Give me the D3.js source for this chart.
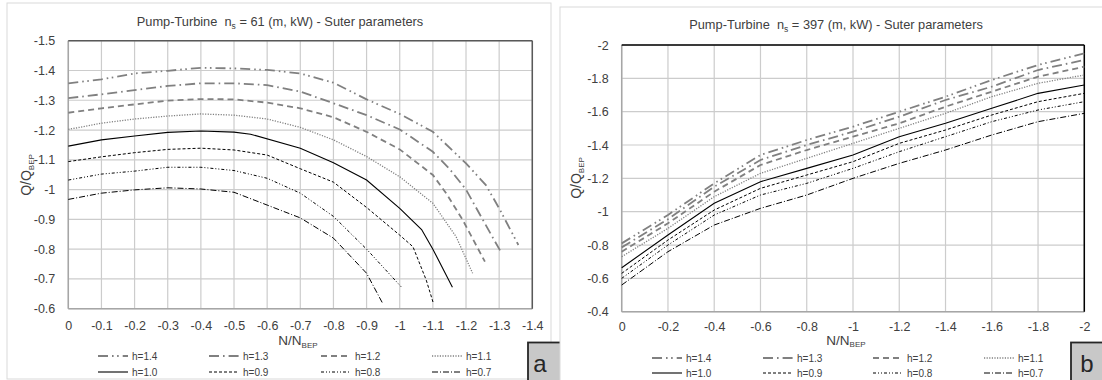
<!DOCTYPE html>
<html><head><meta charset="utf-8">
<script src="https://cdn.jsdelivr.net/npm/d3@7"></script>
<style>
html,body{margin:0;padding:0;background:#fff;}
svg{display:block;font-family:"Liberation Sans",Arial,sans-serif;}
</style></head><body>
<svg id="chart" width="1102" height="380"></svg>
<script>
// ---------- Pump-turbine ns = 61 : Q/Q_BEP against N/N_BEP, one curve per h ----------
const a14N = [0,-0.1,-0.2,-0.3,-0.4,-0.5,-0.6,-0.7,-0.8,-0.9,-1.0,-1.1,-1.2,-1.26,-1.3,-1.358];
const a14Q = [-1.357,-1.370,-1.390,-1.399,-1.409,-1.407,-1.402,-1.390,-1.359,-1.303,-1.254,-1.194,-1.088,-1.015,-0.937,-0.814];
const a13N = [0,-0.1,-0.2,-0.3,-0.4,-0.5,-0.6,-0.7,-0.8,-0.9,-1.0,-1.1,-1.15,-1.2,-1.25,-1.305];
const a13Q = [-1.307,-1.320,-1.334,-1.348,-1.357,-1.357,-1.351,-1.329,-1.290,-1.250,-1.202,-1.127,-1.070,-1.000,-0.900,-0.791];
const a12N = [0,-0.1,-0.2,-0.3,-0.4,-0.5,-0.6,-0.7,-0.8,-0.9,-1.0,-1.1,-1.14,-1.19,-1.257];
const a12Q = [-1.258,-1.273,-1.286,-1.299,-1.304,-1.303,-1.292,-1.273,-1.243,-1.194,-1.135,-1.049,-0.988,-0.898,-0.758];
const a11N = [0,-0.1,-0.2,-0.3,-0.4,-0.5,-0.6,-0.7,-0.8,-0.9,-1.0,-1.1,-1.17,-1.22];
const a11Q = [-1.202,-1.223,-1.237,-1.247,-1.254,-1.250,-1.237,-1.209,-1.167,-1.111,-1.043,-0.954,-0.842,-0.719];
const a10N = [0,-0.1,-0.2,-0.3,-0.4,-0.5,-0.55,-0.7,-0.8,-0.9,-1.0,-1.066,-1.1,-1.159];
const a10Q = [-1.146,-1.167,-1.180,-1.192,-1.197,-1.193,-1.186,-1.139,-1.090,-1.032,-0.937,-0.866,-0.800,-0.672];
const a09N = [0,-0.1,-0.2,-0.3,-0.4,-0.5,-0.6,-0.7,-0.8,-0.9,-1.0,-1.04,-1.08,-1.101];
const a09Q = [-1.094,-1.110,-1.124,-1.135,-1.139,-1.133,-1.116,-1.070,-1.025,-0.940,-0.847,-0.808,-0.696,-0.620];
const a08N = [0,-0.1,-0.2,-0.3,-0.4,-0.5,-0.6,-0.7,-0.8,-0.9,-1.004];
const a08Q = [-1.032,-1.052,-1.062,-1.075,-1.075,-1.064,-1.038,-0.988,-0.910,-0.800,-0.674];
const a07N = [0,-0.1,-0.2,-0.3,-0.4,-0.5,-0.6,-0.7,-0.8,-0.9,-0.947];
const a07Q = [-0.967,-0.988,-0.999,-1.006,-1.002,-0.991,-0.948,-0.905,-0.837,-0.719,-0.621];

// ---------- Pump-turbine ns = 397 ----------
const speedB = [0,-0.2,-0.4,-0.6,-0.8,-1.0,-1.2,-1.4,-1.6,-1.8,-2.0];
const b14 = [-0.81,-0.98,-1.17,-1.34,-1.43,-1.51,-1.60,-1.69,-1.79,-1.88,-1.95];
const b13 = [-0.786,-0.955,-1.15,-1.31,-1.40,-1.48,-1.57,-1.67,-1.75,-1.85,-1.91];
const b12 = [-0.76,-0.93,-1.12,-1.28,-1.37,-1.45,-1.53,-1.63,-1.72,-1.81,-1.87];
const b11 = [-0.73,-0.90,-1.09,-1.23,-1.32,-1.41,-1.50,-1.59,-1.69,-1.77,-1.82];
const b10 = [-0.664,-0.86,-1.05,-1.18,-1.26,-1.34,-1.45,-1.53,-1.62,-1.71,-1.76];
const b09 = [-0.63,-0.83,-1.01,-1.14,-1.22,-1.30,-1.41,-1.49,-1.58,-1.66,-1.71];
const b08 = [-0.60,-0.80,-0.98,-1.10,-1.17,-1.26,-1.36,-1.45,-1.54,-1.61,-1.66];
const b07 = [-0.56,-0.76,-0.92,-1.02,-1.10,-1.20,-1.29,-1.37,-1.46,-1.54,-1.59];

const headLabels = ["h=1.4","h=1.3","h=1.2","h=1.1","h=1.0","h=0.9","h=0.8","h=0.7"];

const xTicksA = [0,-0.1,-0.2,-0.3,-0.4,-0.5,-0.6,-0.7,-0.8,-0.9,-1,-1.1,-1.2,-1.3,-1.4];
const yTicksA = [-1.5,-1.4,-1.3,-1.2,-1.1,-1,-0.9,-0.8,-0.7,-0.6];
const xTicksB = [0,-0.2,-0.4,-0.6,-0.8,-1,-1.2,-1.4,-1.6,-1.8,-2];
const yTicksB = [-2,-1.8,-1.6,-1.4,-1.2,-1,-0.8,-0.6,-0.4];

// line appearance per head ratio (same order as headLabels)
const lineStyles = [
  {color:"#808080", width:1.8, dash:"10,4,1.6,3.5,1.6,4"},
  {color:"#808080", width:1.8, dash:"10,4,1.6,4"},
  {color:"#808080", width:1.8, dash:"6,4"},
  {color:"#808080", width:1.3, dash:"1.2,1.4"},
  {color:"#000000", width:1.1, dash:null},
  {color:"#000000", width:1.0, dash:"3,2"},
  {color:"#000000", width:1.0, dash:"3,2,1,2,1,2"},
  {color:"#000000", width:1.0, dash:"6,2,1,2"}
];

const zip = (xs, ys) => xs.map((x, i) => [x, ys[i]]);
const seriesA = [zip(a14N,a14Q), zip(a13N,a13Q), zip(a12N,a12Q), zip(a11N,a11Q),
                 zip(a10N,a10Q), zip(a09N,a09Q), zip(a08N,a08Q), zip(a07N,a07Q)];
const seriesB = [b14,b13,b12,b11,b10,b09,b08,b07].map(q => zip(speedB, q));

const fmt = v => String(+v.toFixed(2));
const svg = d3.select("#chart");

function drawPanel(p) {
  const g = svg.append("g");
  // outer frame of the panel
  g.append("rect").attr("x", p.frame[0]).attr("y", p.frame[1])
    .attr("width", p.frame[2]).attr("height", p.frame[3])
    .attr("fill", "#fff").attr("stroke", "#d9d9d9").attr("stroke-width", 1);

  const x = d3.scaleLinear().domain(p.xDomain).range([p.left, p.right]);
  const y = d3.scaleLinear().domain(p.yDomain).range([p.top, p.bottom]);

  // grid
  g.append("g").selectAll("line").data(p.xTicks).join("line")
    .attr("x1", d => x(d)).attr("x2", d => x(d)).attr("y1", p.top).attr("y2", p.bottom)
    .attr("stroke", "#cccccc").attr("stroke-width", 1.2);
  g.append("g").selectAll("line").data(p.yTicks).join("line")
    .attr("y1", d => y(d)).attr("y2", d => y(d)).attr("x1", p.left).attr("x2", p.right)
    .attr("stroke", "#cccccc").attr("stroke-width", 1.2);

  // axes labels
  const ax = g.append("g").attr("transform", `translate(0,${p.bottom})`)
    .call(d3.axisBottom(x).tickValues(p.xTicks).tickFormat(fmt).tickSize(0).tickPadding(p.xPad));
  const ay = g.append("g").attr("transform", `translate(${p.left},0)`)
    .call(d3.axisLeft(y).tickValues(p.yTicks).tickFormat(fmt).tickSize(0).tickPadding(p.yPad));
  [ax, ay].forEach(a => {
    a.select(".domain").remove();
    a.selectAll("text").attr("font-size", 12.5).attr("fill", "#404040")
      .attr("font-family", "'Liberation Sans', Arial, sans-serif");
  });

  // plot border: grey axis lines on left/bottom, dark on top/right
  g.append("line").attr("x1", p.left).attr("x2", p.left).attr("y1", p.top).attr("y2", p.bottom)
    .attr("stroke", "#a6a6a6").attr("stroke-width", 1.5);
  g.append("line").attr("x1", p.left).attr("x2", p.right).attr("y1", p.bottom).attr("y2", p.bottom)
    .attr("stroke", "#a6a6a6").attr("stroke-width", 1.5);
  g.append("line").attr("x1", p.left).attr("x2", p.right).attr("y1", p.top).attr("y2", p.top)
    .attr("stroke", p.edge).attr("stroke-width", 1.5);
  g.append("line").attr("x1", p.right).attr("x2", p.right).attr("y1", p.top).attr("y2", p.bottom)
    .attr("stroke", p.edge).attr("stroke-width", 1.5);

  // curves
  const line = d3.line().x(d => x(d[0])).y(d => y(d[1]));
  g.append("g").selectAll("path").data(p.series).join("path")
    .attr("d", line).attr("fill", "none")
    .attr("stroke", (d, i) => lineStyles[i].color)
    .attr("stroke-width", (d, i) => lineStyles[i].width)
    .attr("stroke-dasharray", (d, i) => lineStyles[i].dash);

  // title
  const t = g.append("text").attr("x", p.titleX).attr("y", p.titleY)
    .attr("text-anchor", "middle").attr("font-size", 12.8).attr("fill", "#404040")
    .style("white-space", "pre");
  t.append("tspan").text("Pump-Turbine  n");
  t.append("tspan").attr("font-size", 8.5).attr("dy", 3).text("s");
  t.append("tspan").attr("dy", -3).text(` = ${p.ns} (m, kW) - Suter parameters`);

  // axis titles
  const xt = g.append("text").attr("x", p.xTitle[0]).attr("y", p.xTitle[1])
    .attr("text-anchor", "middle").attr("font-size", 13.5).attr("fill", "#404040");
  xt.append("tspan").text("N/N");
  xt.append("tspan").attr("font-size", 8).attr("dy", 2.5).text("BEP");

  const yt = g.append("text").attr("transform", `translate(${p.yTitle[0]},${p.yTitle[1]}) rotate(-90)`)
    .attr("text-anchor", "middle").attr("font-size", 14).attr("fill", "#404040");
  yt.append("tspan").text("Q/Q");
  yt.append("tspan").attr("font-size", 8).attr("dy", 2.5).text("BEP");

  // legend: two rows of four
  const lg = g.append("g").selectAll("g").data(headLabels).join("g")
    .attr("transform", (d, i) => `translate(${p.legX[i % 4]},${p.legY[Math.floor(i / 4)]})`);
  lg.append("line").attr("x1", 0).attr("x2", 30).attr("y1", 0).attr("y2", 0)
    .attr("stroke", (d, i) => lineStyles[i].color)
    .attr("stroke-width", (d, i) => lineStyles[i].width)
    .attr("stroke-dasharray", (d, i) => lineStyles[i].dash);
  lg.append("text").attr("x", 34).attr("dy", "0.35em").attr("font-size", 10)
    .attr("fill", "#404040").text(d => d);

  // panel tag
  g.append("rect").attr("x", p.tag[0]).attr("y", p.tag[1]).attr("width", p.tag[2]).attr("height", p.tag[3])
    .attr("fill", "#c8c8c8").attr("stroke", "#262626").attr("stroke-width", 1.8);
  g.append("text").attr("x", p.tag[4]).attr("y", p.tag[5]).attr("text-anchor", "middle")
    .attr("dy", "0.35em").attr("font-size", 24).attr("fill", "#262626").text(p.tagText);
}

drawPanel({
  frame: [7, 3, 544, 376],
  xDomain: [0, -1.4], yDomain: [-1.5, -0.6],
  left: 68.3, right: 532.3, top: 40.7, bottom: 308.7,
  xTicks: xTicksA, yTicks: yTicksA, xPad: 12, yPad: 13,
  edge: "#595959", series: seriesA, ns: 61,
  titleX: 280, titleY: 26,
  xTitle: [298, 345], yTitle: [31, 175],
  legX: [98, 209, 321, 432], legY: [356, 372],
  tag: [528, 342.5, 34, 40, 540, 364], tagText: "a"
});

drawPanel({
  frame: [560, 7, 560, 380],
  xDomain: [0, -2], yDomain: [-2, -0.4],
  left: 621.7, right: 1084.3, top: 45, bottom: 311.7,
  xTicks: xTicksB, yTicks: yTicksB, xPad: 10, yPad: 13,
  edge: "#000000", series: seriesB, ns: 397,
  titleX: 836, titleY: 29,
  xTitle: [846, 344.5], yTitle: [581, 178],
  legX: [652, 763, 873, 984], legY: [358, 373],
  tag: [1071, 342.5, 40, 40, 1087, 364], tagText: "b"
});
</script>
</body></html>
